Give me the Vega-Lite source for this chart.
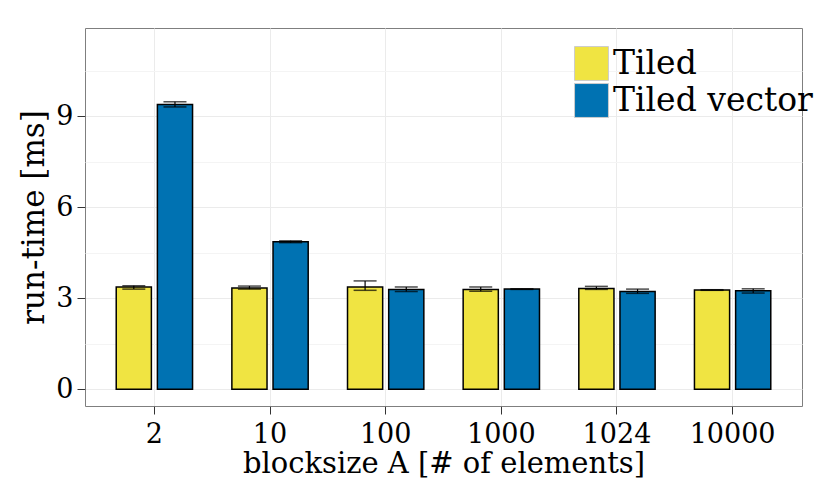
{
  "$schema": "https://vega.github.io/schema/vega-lite/v6.json",
  "autosize": "none",
  "padding": {"left": 85, "top": 28, "right": 28, "bottom": 92},
  "width": 717,
  "height": 378,
  "background": "white",
  "config": {
    "font": "DejaVu Serif",
    "view": {"stroke": "#7F7F7F", "strokeWidth": 1},
    "axis": {
      "labelFont": "DejaVu Serif",
      "titleFont": "DejaVu Serif",
      "labelFontSize": 27,
      "titleFontSize": 29,
      "titleFontWeight": "normal",
      "labelColor": "black",
      "titleColor": "black",
      "domain": false,
      "tickColor": "#333333",
      "tickSize": 8,
      "tickWidth": 1,
      "gridColor": "#EBEBEB"
    }
  },
  "data": {
    "values": [
      {"blocksize": "2", "variant": "Tiled", "mean": 3.37, "lo": 3.30, "hi": 3.41},
      {"blocksize": "2", "variant": "Tiled vector", "mean": 9.38, "lo": 9.30, "hi": 9.47},
      {"blocksize": "10", "variant": "Tiled", "mean": 3.34, "lo": 3.30, "hi": 3.40},
      {"blocksize": "10", "variant": "Tiled vector", "mean": 4.86, "lo": 4.83, "hi": 4.89},
      {"blocksize": "100", "variant": "Tiled", "mean": 3.37, "lo": 3.26, "hi": 3.57},
      {"blocksize": "100", "variant": "Tiled vector", "mean": 3.29, "lo": 3.22, "hi": 3.37},
      {"blocksize": "1000", "variant": "Tiled", "mean": 3.29, "lo": 3.23, "hi": 3.37},
      {"blocksize": "1000", "variant": "Tiled vector", "mean": 3.30, "lo": 3.29, "hi": 3.31},
      {"blocksize": "1024", "variant": "Tiled", "mean": 3.32, "lo": 3.29, "hi": 3.39},
      {"blocksize": "1024", "variant": "Tiled vector", "mean": 3.22, "lo": 3.16, "hi": 3.30},
      {"blocksize": "10000", "variant": "Tiled", "mean": 3.27, "lo": 3.26, "hi": 3.28},
      {"blocksize": "10000", "variant": "Tiled vector", "mean": 3.25, "lo": 3.17, "hi": 3.31}
    ]
  },
  "encoding": {
    "x": {
      "field": "blocksize",
      "type": "nominal",
      "sort": null,
      "scale": {"paddingInner": 0.34, "paddingOuter": 0.27},
      "axis": {
        "title": "blocksize A [# of elements]",
        "labelAngle": 0,
        "labelPadding": 7,
        "titlePadding": 2,
        "grid": true,
        "bandPosition": 0.5
      }
    },
    "xOffset": {
      "field": "variant",
      "type": "nominal",
      "scale": {"paddingInner": 0.146, "paddingOuter": 0}
    }
  },
  "layer": [
    {
      "mark": {"type": "bar", "stroke": "black", "strokeWidth": 1.5},
      "encoding": {
        "y": {
          "field": "mean",
          "type": "quantitative",
          "scale": {"domain": [-0.55, 11.9], "nice": false, "zero": false},
          "axis": {
            "title": "run-time [ms]",
            "values": [0, 1.5, 3, 4.5, 6, 7.5, 9, 10.5],
            "labelExpr": "datum.value % 3 === 0 ? datum.label : ''",
            "tickOpacity": {"condition": {"test": "datum.value % 3 === 0", "value": 1}, "value": 0},
            "gridColor": {"condition": {"test": "datum.value % 3 === 0", "value": "#EBEBEB"}, "value": "#F4F4F4"},
            "labelPadding": 4,
            "titleFontSize": 31,
            "titlePadding": 5
          }
        },
        "fill": {
          "field": "variant",
          "type": "nominal",
          "scale": {"domain": ["Tiled", "Tiled vector"], "range": ["#F0E442", "#0072B2"]},
          "legend": {
            "title": null,
            "orient": "none",
            "legendX": 489,
            "legendY": 18,
            "symbolType": "square",
            "symbolSize": 1150,
            "symbolStrokeColor": "#CCCCCC",
            "symbolStrokeWidth": 1,
            "symbolOpacity": 1,
            "labelFont": "DejaVu Serif",
            "labelFontSize": 33,
            "labelLimit": 400,
            "labelColor": "black",
            "labelOffset": 4,
            "rowPadding": -10
          }
        }
      }
    },
    {
      "mark": {"type": "rule", "color": "black", "strokeWidth": 1.2},
      "encoding": {
        "y": {"field": "lo", "type": "quantitative"},
        "y2": {"field": "hi"}
      }
    },
    {
      "mark": {"type": "tick", "color": "black", "thickness": 1.5, "size": 23},
      "encoding": {
        "y": {"field": "lo", "type": "quantitative"}
      }
    },
    {
      "mark": {"type": "tick", "color": "black", "thickness": 1.5, "size": 23},
      "encoding": {
        "y": {"field": "hi", "type": "quantitative"}
      }
    }
  ]
}
